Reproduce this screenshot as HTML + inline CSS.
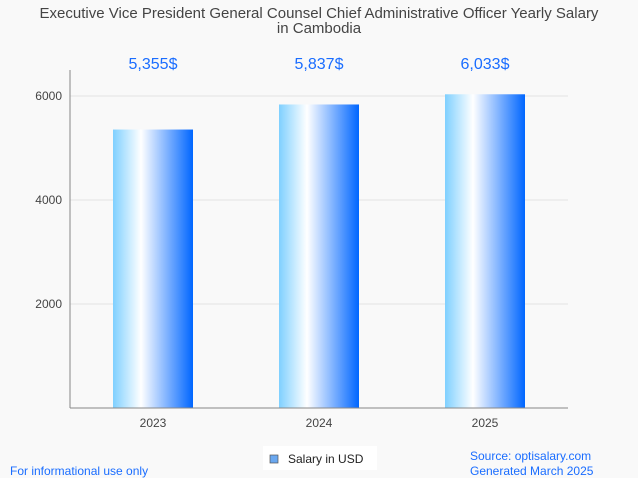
<!DOCTYPE html>
<html><head><meta charset="utf-8"><style>
body{margin:0;background:#f9f9f9;font-family:"Liberation Sans",sans-serif}
#c{position:relative;width:638px;height:478px;overflow:hidden}
</style></head><body>
<div id="c">
<svg id="s" width="638" height="478" xmlns="http://www.w3.org/2000/svg">
<defs><linearGradient id="g" x1="0" x2="1" y1="0" y2="0">
<stop offset="0" stop-color="#7fd0ff"/><stop offset="0.35" stop-color="#ffffff"/><stop offset="1" stop-color="#0066ff"/></linearGradient></defs>
<text x="319" y="18" text-anchor="middle" font-size="15" fill="#444">Executive Vice President General Counsel Chief Administrative Officer Yearly Salary</text>
<text x="319" y="33" text-anchor="middle" font-size="15" fill="#444">in Cambodia</text>
<g id="grid"></g><g id="bars"></g>
<line x1="70" y1="70" x2="70" y2="408" stroke="#888"/>
<line x1="70" y1="408" x2="568" y2="408" stroke="#888"/>
<rect x="263" y="446" width="114" height="24" fill="#fff"/>
<rect x="270" y="455" width="8" height="8" fill="#6aa8f0" stroke="#555" stroke-width="0.7"/>
<text x="288" y="463" font-size="12" fill="#222">Salary in USD</text>
<text x="10" y="475" font-size="12" fill="#1a6dff">For informational use only</text>
<text x="470" y="460" font-size="12" fill="#1a6dff">Source: optisalary.com</text>
<text x="470" y="475" font-size="12" fill="#1a6dff">Generated March 2025</text>
</svg></div>
<script>
const categories=["2023","2024","2025"];
const values=[5355,5837,6033];
const valueLabels=["5,355$","5,837$","6,033$"];
const yTicks=[2000,4000,6000];
const NS="http://www.w3.org/2000/svg";
const y=v=>408-v*0.052;
const x=i=>70+83+i*166;
const grid=document.getElementById('grid'),bars=document.getElementById('bars');
function mk(t,a,p){const e=document.createElementNS(NS,t);for(const k in a)e.setAttribute(k,a[k]);p.appendChild(e);return e;}
yTicks.forEach(t=>{
 const l=mk('line',{x1:70,x2:568,y1:y(t),y2:y(t),stroke:'#e3e3e3'},grid);
 
 
 const tx=mk('text',{x:62,y:y(t)+4,'text-anchor':'end','font-size':12,fill:'#444'},grid);
 tx.textContent=t;
 
 
});
categories.forEach((c,i)=>{
 const r=mk('rect',{x:x(i)-40,y:y(values[i]),width:80,height:408-y(values[i]),fill:'url(#g)'},bars);
 
 
 const v=mk('text',{x:x(i),y:69,'text-anchor':'middle','font-size':16,fill:'#1a6dff'},bars);
 v.textContent=valueLabels[i];
 
 
 const l=mk('text',{x:x(i),y:427,'text-anchor':'middle','font-size':12,fill:'#444'},bars);
 l.textContent=c;
 
 
});
</script>
</body></html>
